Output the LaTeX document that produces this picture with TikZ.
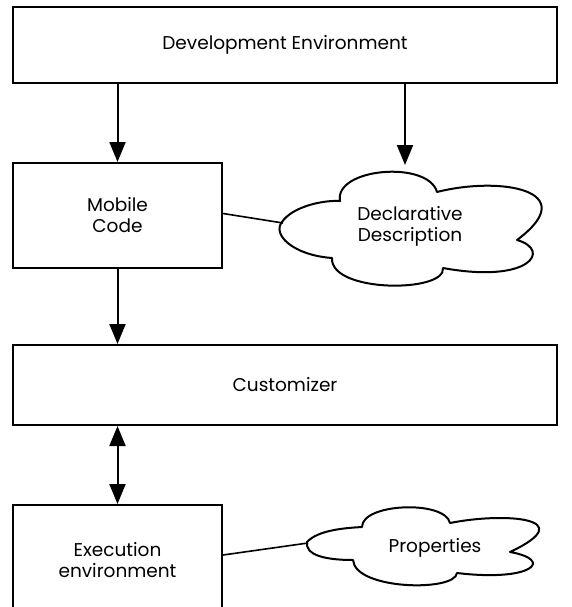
\documentclass[tikz,border=0pt]{standalone}
\usepackage{fontspec}
\setmainfont{Poppins}
\usetikzlibrary{arrows.meta}
\begin{document}
\begin{tikzpicture}[x=1pt,y=-1pt,
  box/.style={draw,line width=2pt,rectangle,inner sep=0pt,font=\fontsize{18.5}{21}\selectfont,align=center},
  lbl/.style={inner sep=0pt,font=\fontsize{18.5}{21}\selectfont,align=center},
  cloudline/.style={line width=2pt,line join=round},
  arr/.style={line width=2pt,-{Triangle[width=16pt,length=20pt]}},
  link/.style={line width=1.6pt}]
\clip (0,0) rectangle (571,607);

% boxes
\node[box,minimum width=544pt,minimum height=76pt] (dev) at (285,45) {Development Environment};
\node[box,minimum width=209pt,minimum height=105pt] (mob) at (117.5,215.5) {Mobile\\Code};
\node[box,minimum width=544pt,minimum height=80pt] (cust) at (285,385) {Customizer};
\node[box,minimum width=209pt,minimum height=110pt] (exec) at (117.5,560) {};
\node[lbl] (exectext) at (117.5,560) {Execution\\environment};

% cloud: declarative description
\draw[cloudline] (282,222)
  .. controls (292,207) and (322,200) .. (340,201)
  .. controls (334,168) and (428,160) .. (437,192)
  .. controls (500,176) and (584,190) .. (517,240)
  .. controls (552,250) and (530,284) .. (443,268)
  .. controls (446,293) and (330,293) .. (332,258)
  .. controls (292,255) and (272,234) .. cycle;
\node[lbl] (decl) at (410,226) {Declarative\\Description};
\coordinate (decltop) at (405,165);
\coordinate (declleft) at (283,223);

% cloud: properties
\draw[cloudline] (307,542)
  .. controls (318,530) and (345,528) .. (362,527)
  .. controls (362,503) and (445,500) .. (450,523)
  .. controls (505,512) and (582,518) .. (510,552)
  .. controls (555,560) and (532,582) .. (457,573)
  .. controls (455,592) and (355,590) .. (353,560)
  .. controls (325,560) and (305,555) .. cycle;
\node[lbl] (prop) at (435,548) {Properties};
\coordinate (propleft) at (308,543);

% connectors
\draw[arr] (dev.south -| mob.north) -- (mob.north);
\draw[arr] (dev.south -| decltop) -- (decltop);
\draw[arr] (mob.south) -- (cust.north -| mob.south);
\draw[line width=2pt,{Triangle[width=16pt,length=20pt]}-{Triangle[width=16pt,length=20pt]}] (cust.south -| exec.north) -- (exec.north);
\draw[link] (mob.east) ++(0,-2) coordinate (mobr) -- (declleft);
\draw[link] (exec.east) ++(0,-5) coordinate (execr) -- (propleft);
\end{tikzpicture}
\end{document}
